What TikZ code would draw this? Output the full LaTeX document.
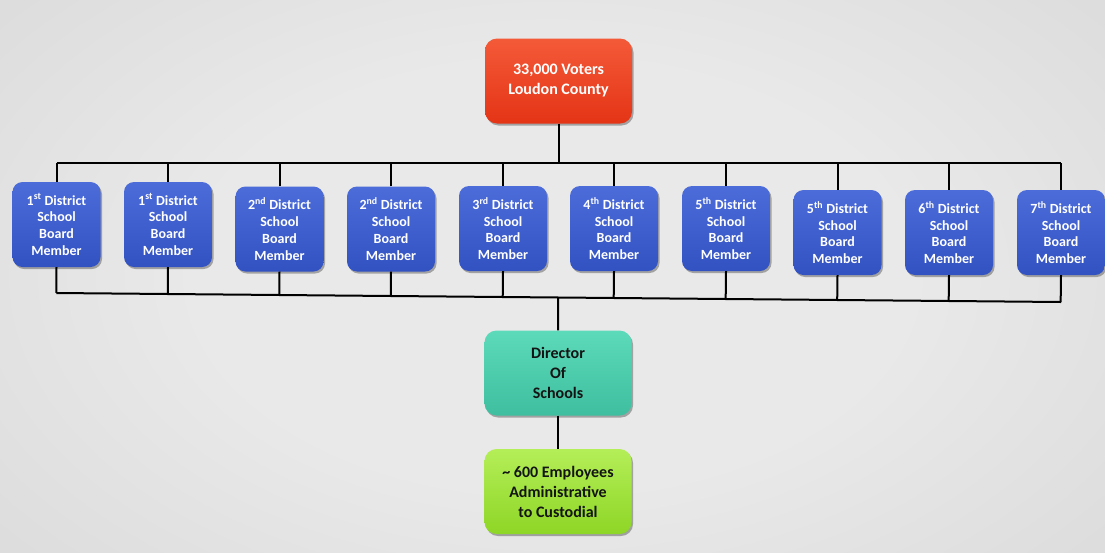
\documentclass[tikz,border=0pt]{standalone}
\usepackage{fontspec}
\setmainfont{Carlito}
\usetikzlibrary{shadows,calc}
\definecolor{bgin}{HTML}{E9E9E9}
\definecolor{bgout}{HTML}{BCBCBC}
\definecolor{redtop}{HTML}{F45A38}
\definecolor{redbot}{HTML}{E43416}
\definecolor{bluetop}{HTML}{4C6CDA}
\definecolor{bluebot}{HTML}{3352C2}
\definecolor{tealtop}{HTML}{5CDABA}
\definecolor{tealbot}{HTML}{3FBF9F}
\definecolor{greentop}{HTML}{B4EE58}
\definecolor{greenbot}{HTML}{8ED626}
\definecolor{txtdark}{HTML}{141414}
\pgfdeclareradialshading{bgshade}{\pgfpoint{0bp}{0bp}}{color(0bp)=(bgin); color(15bp)=(bgin); color(70bp)=(bgout)}
\begin{document}
\begin{tikzpicture}[x=1pt,y=-1pt,
  conn/.style={line width=2pt, black},
  shadowed/.style={drop shadow={shadow xshift=1.5pt, shadow yshift=-2pt, opacity=0.3, fill=black}},
  bigbox/.style={shadowed, rounded corners=12pt, minimum width=147pt, minimum height=85pt, align=center, inner sep=0pt, font=\bfseries\fontsize{16}{20}\selectfont},
  topbox/.style={bigbox, top color=redtop, bottom color=redbot, text=white},
  dirbox/.style={bigbox, top color=tealtop, bottom color=tealbot, text=txtdark},
  empbox/.style={bigbox, top color=greentop, bottom color=greenbot, text=txtdark},
  member/.style={shadowed, rounded corners=10pt, minimum width=88pt, minimum height=85pt, align=center, inner sep=0pt, text=white, top color=bluetop, bottom color=bluebot, font=\bfseries\fontsize{14}{16.7}\selectfont}
]
\useasboundingbox (0,0) rectangle (1105,552);
\shade[shading=bgshade] (-40,-80) rectangle (1145,632);

% top
\node[topbox] (top) at (558.5,81) {33,000 Voters\\Loudon County};

% bus coordinates
\coordinate (tl) at (56.5,163);
\coordinate (tr) at (1061,163);
\coordinate (bl) at (56.5,293);
\coordinate (br) at (1061,302);

% members
\node[member] (m1) at (56.5,224.5) {1\textsuperscript{st} District\\School\\Board\\Member};
\node[member] (m2) at (168,224.5) {1\textsuperscript{st} District\\School\\Board\\Member};
\node[member] (m3) at (279.5,229) {2\textsuperscript{nd} District\\School\\Board\\Member};
\node[member] (m4) at (391,229) {2\textsuperscript{nd} District\\School\\Board\\Member};
\node[member] (m5) at (503,228.5) {3\textsuperscript{rd} District\\School\\Board\\Member};
\node[member] (m6) at (614,228.5) {4\textsuperscript{th} District\\School\\Board\\Member};
\node[member] (m7) at (726,228.5) {5\textsuperscript{th} District\\School\\Board\\Member};
\node[member] (m8) at (837.5,232.5) {5\textsuperscript{th} District\\School\\Board\\Member};
\node[member] (m9) at (949,232.5) {6\textsuperscript{th} District\\School\\Board\\Member};
\node[member] (m10) at (1061,232.5) {7\textsuperscript{th} District\\School\\Board\\Member};

% director and employees
\node[dirbox] (dir) at (558,373) {Director\\Of\\Schools};
\node[empbox] (emp) at (558,491.5) {\textasciitilde\ 600 Employees\\Administrative\\to Custodial};

% connectors
\draw[conn] (tl) -- (tr);
\draw[conn] (bl) -- (br);
\draw[conn] (top.south) -- (top.south |- tl);
\foreach \m in {m1,m2,m3,m4,m5,m6,m7,m8,m9,m10}{
  \draw[conn] (\m.north) -- (\m.north |- tl);
  \draw[conn] (\m.south) -- ($(bl)!(\m.south)!(br)$);
}
\draw[conn] (dir.north) -- ($(bl)!(dir.north)!(br)$);
\draw[conn] (dir.south) -- (emp.north);
\end{tikzpicture}
\end{document}
